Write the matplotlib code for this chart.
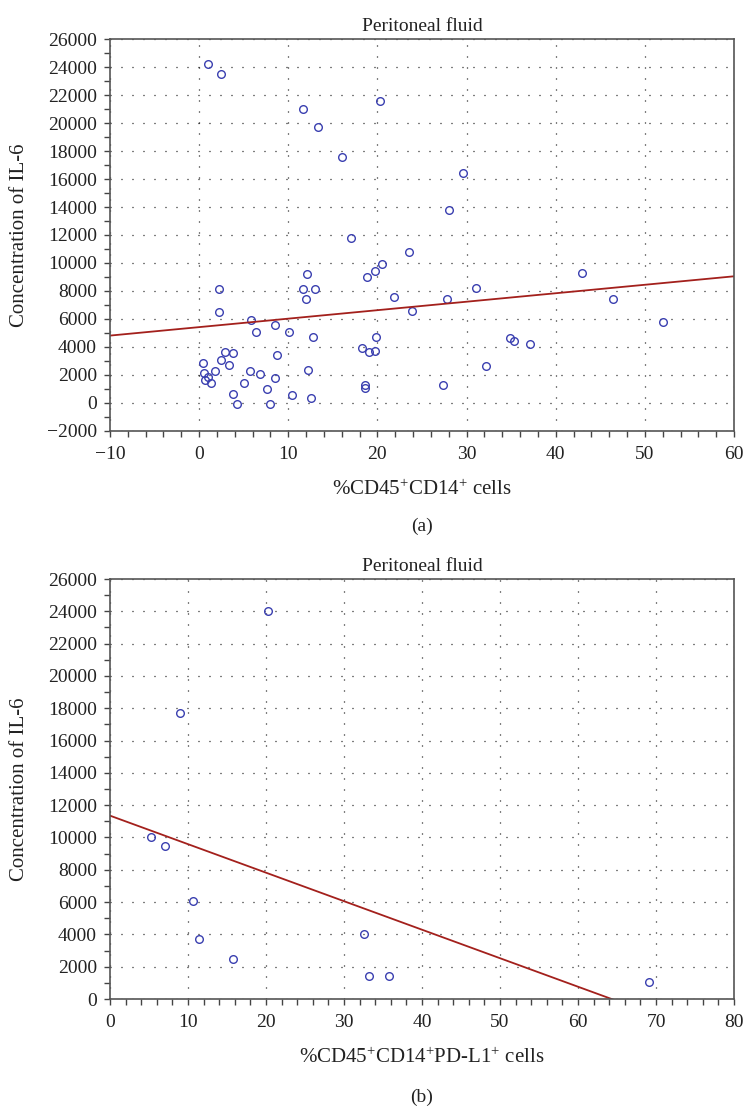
import numpy as np
import matplotlib
matplotlib.use("Agg")
import matplotlib.pyplot as plt
from matplotlib.ticker import MultipleLocator

# ---------------- data ----------------
a_x = [1.0, 2.4, 11.7, 20.3, 13.3, 16.0, 17.0, 23.5, 20.5, 19.7, 18.8, 12.15, 11.6, 13.0,
       12.0, 2.2, 2.2, 21.9, 23.9, 5.8, 8.5, 6.4, 10.1, 12.8, 19.85, 18.3, 19.0, 19.7, 8.7,
       2.9, 3.8, 2.5, 3.4, 0.4, 0.5, 1.8, 1.0, 0.7, 1.3, 5.7, 6.85, 8.5, 5.0, 7.6, 3.85, 4.3,
       8.0, 10.4, 12.6, 12.2, 18.6, 18.6, 29.6, 28.0, 27.8, 31.1, 42.9, 46.4, 52.0, 34.9,
       35.3, 37.1, 32.2, 27.4]
a_y = [24200, 23500, 21000, 21600, 19700, 17600, 11800, 10800, 9900, 9400, 9000, 9200, 8150,
       8150, 7400, 8150, 6500, 7550, 6600, 5900, 5550, 5050, 5100, 4700, 4700, 3900, 3650,
       3700, 3400, 3650, 3550, 3050, 2700, 2850, 2150, 2300, 1850, 1650, 1400, 2300, 2100,
       1750, 1400, 1000, 650, -50, -100, 600, 350, 2350, 1250, 1050, 16400, 13800, 7400,
       8200, 9300, 7400, 5800, 4650, 4450, 4200, 2650, 1300]
a_fit = (5420, 60.5)          # intercept, slope

b_x = [20.2, 9.0, 5.3, 7.0, 10.6, 11.4, 15.8, 32.5, 33.2, 35.8, 69.1]
b_y = [24000, 17700, 10000, 9500, 6050, 3700, 2500, 4050, 1450, 1450, 1050]
b_fit = (11350, -176.5)

title = "Peritoneal fluid"
ylabel = "Concentration of IL-6"
a_xlabel = "%CD45$^{+}$CD14$^{+}$ cells"
b_xlabel = "%CD45$^{+}$CD14$^{+}$PD-L1$^{+}$ cells"

# ---------------- style ----------------
plt.rcParams["font.family"] = ["Liberation Serif", "DejaVu Serif"]
plt.rcParams["mathtext.fontset"] = "custom"
plt.rcParams["mathtext.rm"] = "Liberation Serif"
plt.rcParams["mathtext.it"] = "Liberation Serif:italic"
plt.rcParams["mathtext.bf"] = "Liberation Serif:bold"

W, H = 743, 1106
fig = plt.figure(figsize=(W / 100, H / 100), dpi=100)

mcolor = "#3a3fb0"
lcolor = "#a3201c"
tcolor = "#222222"


def px_axes(left, top, right, bottom):
    return fig.add_axes([left / W, 1 - bottom / H, (right - left) / W, (bottom - top) / H])


def style(ax, xlim, ylim, xmaj, xmin, xl, top_px, bottom_px):
    ax.set_xlim(*xlim)
    ax.set_ylim(*ylim)
    ax.xaxis.set_major_locator(MultipleLocator(xmaj))
    ax.xaxis.set_minor_locator(MultipleLocator(xmin))
    ax.yaxis.set_major_locator(MultipleLocator(2000))
    ax.yaxis.set_minor_locator(MultipleLocator(1000))
    ax.tick_params(which="both", direction="out", top=False, right=False,
                   color="#444444", width=1.0)
    ax.tick_params(which="major", length=4.5)
    ax.tick_params(which="minor", length=4)
    ax.tick_params(axis="y", labelsize=14, pad=5, labelcolor=tcolor)
    ax.tick_params(axis="x", labelsize=14, pad=6, labelcolor=tcolor)
    for s in ax.spines.values():
        s.set_color("#555555")
        s.set_linewidth(1.2)
    ax.grid(True, which="major", color="black", linewidth=0.9,
            linestyle=(0, (0.8, 8.0)))
    ax.set_axisbelow(True)
    ax.set_title(title, fontsize=14, pad=6, color=tcolor)
    ax.set_ylabel(ylabel, fontsize=15, color=tcolor, va="center")
    ax.yaxis.set_label_coords(-91 / 624, 0.5)
    ax.set_xlabel(xl, fontsize=15, color=tcolor, va="center")
    h = bottom_px - top_px
    ax.xaxis.set_label_coords(0.5, -59 / h)


# panel (a)
ax1 = px_axes(110, 39, 734, 431)
ax1.plot(a_x, a_y, linestyle="none", marker="o", markersize=5.5,
         markerfacecolor="none", markeredgecolor=mcolor, markeredgewidth=1.0)
xa = np.array([-10, 60])
ax1.plot(xa, a_fit[0] + a_fit[1] * xa, color=lcolor, linewidth=1.3)
style(ax1, (-10, 60), (-2000, 26000), 10, 2, a_xlabel, 39, 431)

# panel (b)
ax2 = px_axes(110, 579, 734, 999)
ax2.plot(b_x, b_y, linestyle="none", marker="o", markersize=5.5,
         markerfacecolor="none", markeredgecolor=mcolor, markeredgewidth=1.0)
xb = np.array([0, 80])
ax2.plot(xb, b_fit[0] + b_fit[1] * xb, color=lcolor, linewidth=1.3)
style(ax2, (0, 80), (0, 26000), 10, 2, b_xlabel, 579, 999)

fig.text(422 / W, 1 - 526 / H, "(a)", ha="center", va="center", fontsize=14, color=tcolor)
fig.text(422 / W, 1 - 1097 / H, "(b)", ha="center", va="center", fontsize=14, color=tcolor)

fig.savefig("out.png", dpi=100)
